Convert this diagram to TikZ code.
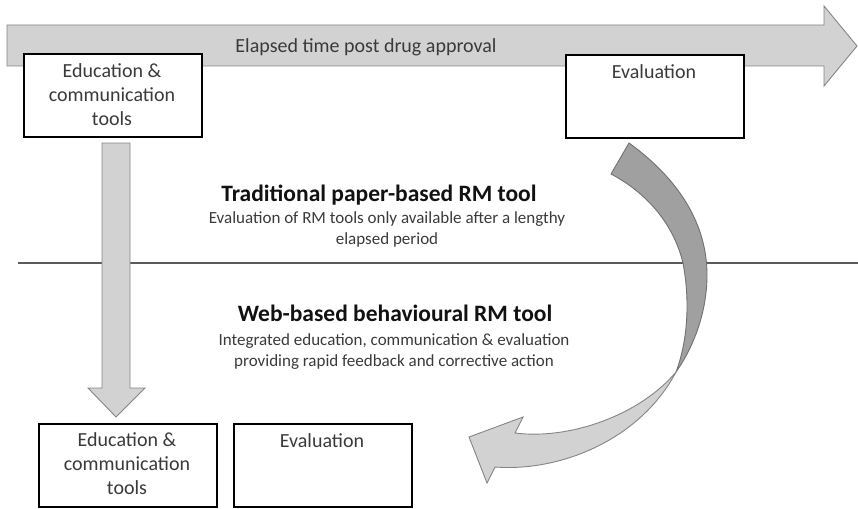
\documentclass[tikz,border=0pt]{standalone}
\usepackage{fontspec}
\setmainfont{Carlito}
\definecolor{txtgray}{HTML}{3A3A3A}
\definecolor{headblack}{HTML}{111111}
\definecolor{lightfill}{HTML}{D2D2D2}
\definecolor{darkfill}{HTML}{A0A0A0}
\definecolor{edgegray}{HTML}{858585}
\definecolor{rulegray}{HTML}{5A5A5A}
\begin{document}
\begin{tikzpicture}[x=1pt,y=-1pt,
  box/.style={draw=black, line width=2.2pt, fill=white, minimum width=178pt,
    minimum height=83pt, inner sep=0pt, anchor=north west},
  boxtext/.style={anchor=north, align=center, inner sep=0pt,
    font=\fontsize{20}{24}\selectfont, text=txtgray},
  heading/.style={inner sep=0pt, font=\fontsize{23.5}{27}\selectfont\bfseries, text=headblack},
  subtext/.style={anchor=north, align=center, inner sep=0pt,
    font=\fontsize{17}{21}\selectfont, text=txtgray},
  blockarrow/.style={fill=lightfill, draw=edgegray, line width=0.9pt, line join=miter},
]
\useasboundingbox (0,0) rectangle (858,508);

% time axis arrow
\draw[blockarrow] (7,25) -- (824,25) -- (824,6) -- (857,46) -- (824,86)
  -- (824,66) -- (7,66) -- cycle;
\node[inner sep=0pt, font=\fontsize{20}{24}\selectfont, text=txtgray] (axis) at (366,47)
  {Elapsed time post drug approval};

% traditional stage boxes
\node[box] (eduTop) at (23,53) {};
\node[boxtext] (eduTopText) at (112,63) {Education \&\\communication\\tools};
\node[box] (evalTop) at (565,54) {};
\node[boxtext] (evalTopText) at (654,64) {Evaluation};

% separator
\draw[rulegray, line width=1.4pt] (18,263) -- (858,263);

% captions
\node[heading] (tradHead) at (379,195) {Traditional paper-based RM tool};
\node[subtext] (tradSub) at (387,211)
  {Evaluation of RM tools only available after a lengthy\\elapsed period};
\node[heading] (webHead) at (395,313) {Web-based behavioural RM tool};
\node[subtext] (webSub) at (394,333)
  {Integrated education, communication \& evaluation\\providing rapid feedback and corrective action};

% downward block arrow
\draw[blockarrow] (102,143) -- (130,143) -- (130,388) -- (145,388) -- (116,417)
  -- (88,388) -- (102,388) -- cycle;

% curved feedback arrow: back face
\draw[fill=darkfill, draw=edgegray!85!black, line width=0.9pt, line join=round]
  (629,143) .. controls (680,180) and (707,225) .. (707,275)
  .. controls (707,310) and (695,345) .. (676,372)
  .. controls (688,340) and (690,300) .. (683,263)
  .. controls (673,222) and (645,192) .. (611,174) -- cycle;
% curved feedback arrow: front face with head
\draw[blockarrow, line join=miter]
  (676,372) .. controls (640,440) and (560,472) .. (495,467)
  -- (487,483) -- (469,437) -- (523,417) -- (515,433)
  .. controls (570,440) and (640,415) .. (676,372) -- cycle;

% web-based stage boxes
\node[box] (eduBot) at (38,423) {};
\node[boxtext] (eduBotText) at (127,432) {Education \&\\communication\\tools};
\node[box] (evalBot) at (233,423) {};
\node[boxtext] (evalBotText) at (322,433) {Evaluation};
\end{tikzpicture}
\end{document}
